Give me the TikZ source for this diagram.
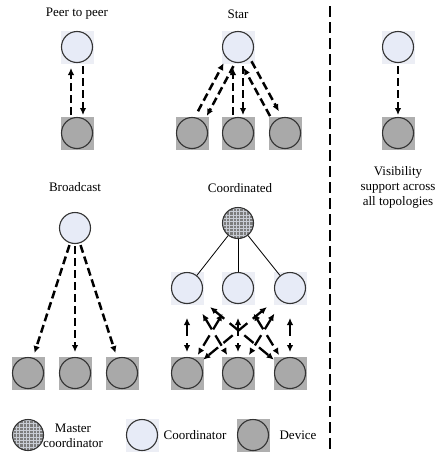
\documentclass[tikz,border=0pt]{standalone}
\usepackage{fontspec}
\setmainfont{Liberation Serif}
\usetikzlibrary{arrows.meta,calc}
\definecolor{cfill}{HTML}{E7EBF7}
\definecolor{csq}{HTML}{ECEEF5}
\definecolor{dfill}{HTML}{A9A9A9}
\definecolor{dsq}{HTML}{AFAFAF}
\definecolor{edgec}{HTML}{333333}
\definecolor{mfill}{HTML}{7C7C7C}
\definecolor{mgrid}{HTML}{C8CCD4}
\tikzset{
  coordnode/.style={circle, draw=edgec, line width=1.1pt, fill=cfill, minimum size=31pt, inner sep=0pt},
  devnode/.style={circle, draw=edgec, line width=1.1pt, fill=dfill, minimum size=31pt, inner sep=0pt},
  csquare/.style={rectangle, fill=csq, minimum size=33pt, inner sep=0pt},
  dsquare/.style={rectangle, fill=dsq, minimum size=33pt, inner sep=0pt},
  masternode/.style={circle, draw=edgec, line width=1.1pt, fill=mfill, minimum size=31pt, inner sep=0pt,
    path picture={
      \foreach \k in {-15,-11.7,...,15} {
        \draw[mgrid, line width=0.4pt] ([xshift=\k pt]path picture bounding box.south) -- ([xshift=\k pt]path picture bounding box.north);
        \draw[mgrid, line width=0.4pt] ([yshift=\k pt]path picture bounding box.west) -- ([yshift=\k pt]path picture bounding box.east);
      }
    }},
  ttl/.style={font=\fontsize{13}{15}\selectfont},
  dasharrow/.style={line width=2.5pt, dash pattern=on 8pt off 4pt, -{Latex[length=7pt,width=6.5pt]}},
  meshar/.style={line width=2.3pt, dash pattern=on 12pt off 7pt, {Latex[length=7pt,width=6.5pt]}-{Latex[length=7pt,width=6.5pt]}},
  treeline/.style={line width=0.8pt, draw=black},
  sepline/.style={line width=2.5pt, dash pattern=on 11pt off 5pt},
}
% from, to, start distance, end distance, side offset
\newcommand\offarrow[5]{\draw[dasharrow] ($ ($(#1)!#3!(#2)$)!#5!90:(#2) $) -- ($ ($(#2)!#4!(#1)$)!#5!-90:(#1) $);}
\newcommand\mesharrow[2]{\draw[meshar] ($(#1)!30pt!(#2)$) -- ($(#2)!21pt!(#1)$);}
\begin{document}
\begin{tikzpicture}[x=1pt,y=-1pt]
\useasboundingbox (0,0) rectangle (438,455);
% ---------- Peer to peer ----------
\node[ttl] (tp) at (77,14) {Peer to peer};
\node[csquare] (p1bg) at (77,47) {};
\node[dsquare] (p2bg) at (77,133) {};
\node[coordnode] (p1) at (77,47) {};
\node[devnode] (p2) at (77,133) {};
\offarrow{p2}{p1}{18pt}{21pt}{6pt}
\offarrow{p1}{p2}{19pt}{18pt}{6pt}
% ---------- Star ----------
\node[ttl] (ts) at (238,14) {Star};
\node[csquare] (s0bg) at (238,47) {};
\node[dsquare] (s1bg) at (192,133) {};
\node[dsquare] (s2bg) at (238,133) {};
\node[dsquare] (s3bg) at (285,133) {};
\node[coordnode] (s0) at (238,47) {};
\node[devnode] (s1) at (192,133) {};
\node[devnode] (s2) at (238,133) {};
\node[devnode] (s3) at (285,133) {};
\offarrow{s2}{s0}{18pt}{21pt}{5pt}
\offarrow{s0}{s2}{19pt}{18pt}{5pt}
\offarrow{s1}{s0}{22pt}{21pt}{5pt}
\offarrow{s0}{s1}{19pt}{22pt}{5pt}
\offarrow{s3}{s0}{22pt}{21pt}{5pt}
\offarrow{s0}{s3}{19pt}{22pt}{5pt}
% ---------- Broadcast ----------
\node[ttl] (tb) at (75,187) {Broadcast};
\node[dsquare] (b1bg) at (28,373) {};
\node[dsquare] (b2bg) at (75,373) {};
\node[dsquare] (b3bg) at (122,373) {};
\node[coordnode] (b0) at (75,228) {};
\node[devnode] (b1) at (28,373) {};
\node[devnode] (b2) at (75,373) {};
\node[devnode] (b3) at (122,373) {};
\offarrow{b0}{b1}{18pt}{21pt}{0pt}
\offarrow{b0}{b2}{18pt}{21pt}{0pt}
\offarrow{b0}{b3}{18pt}{21pt}{0pt}
% ---------- Coordinated ----------
\node[ttl] (tc) at (240,188) {Coordinated};
\node[csquare] (c1bg) at (187,288) {};
\node[csquare] (c2bg) at (238,288) {};
\node[csquare] (c3bg) at (290,288) {};
\node[dsquare] (d1bg) at (187,373) {};
\node[dsquare] (d2bg) at (238,373) {};
\node[dsquare] (d3bg) at (290,373) {};
\node[masternode] (m) at (238,223) {};
\node[coordnode] (c1) at (187,288) {};
\node[coordnode] (c2) at (238,288) {};
\node[coordnode] (c3) at (290,288) {};
\node[devnode] (d1) at (187,373) {};
\node[devnode] (d2) at (238,373) {};
\node[devnode] (d3) at (290,373) {};
\draw[treeline] (m) -- (c1);
\draw[treeline] (m) -- (c2);
\draw[treeline] (m) -- (c3);
\foreach \i in {c1,c2,c3} {\foreach \j in {d1,d2,d3} {\mesharrow{\i}{\j}}}
% ---------- separator ----------
\coordinate (septop) at (330,6);
\coordinate (sepbot) at (330,453);
\draw[sepline] (septop) -- (sepbot);
% ---------- Visibility ----------
\node[csquare] (r1bg) at (398,47) {};
\node[dsquare] (r2bg) at (398,133) {};
\node[coordnode] (r1) at (398,47) {};
\node[devnode] (r2) at (398,133) {};
\offarrow{r1}{r2}{19pt}{18pt}{0pt}
\node[ttl, align=center] (tv) at (398,187) {Visibility\\support across\\all topologies};
% ---------- legend ----------
\node[masternode] (lm) at (28,435) {};
\node[ttl, align=center] (lmt) at (73,436) {Master\\coordinator};
\node[csquare] (lcbg) at (142,435) {};
\node[coordnode] (lc) at (142,435) {};
\node[ttl] (lct) at (195,435) {Coordinator};
\node[dsquare] (ldbg) at (253,435) {};
\node[devnode] (ld) at (253,435) {};
\node[ttl] (ldt) at (298,435) {Device};
\end{tikzpicture}
\end{document}
